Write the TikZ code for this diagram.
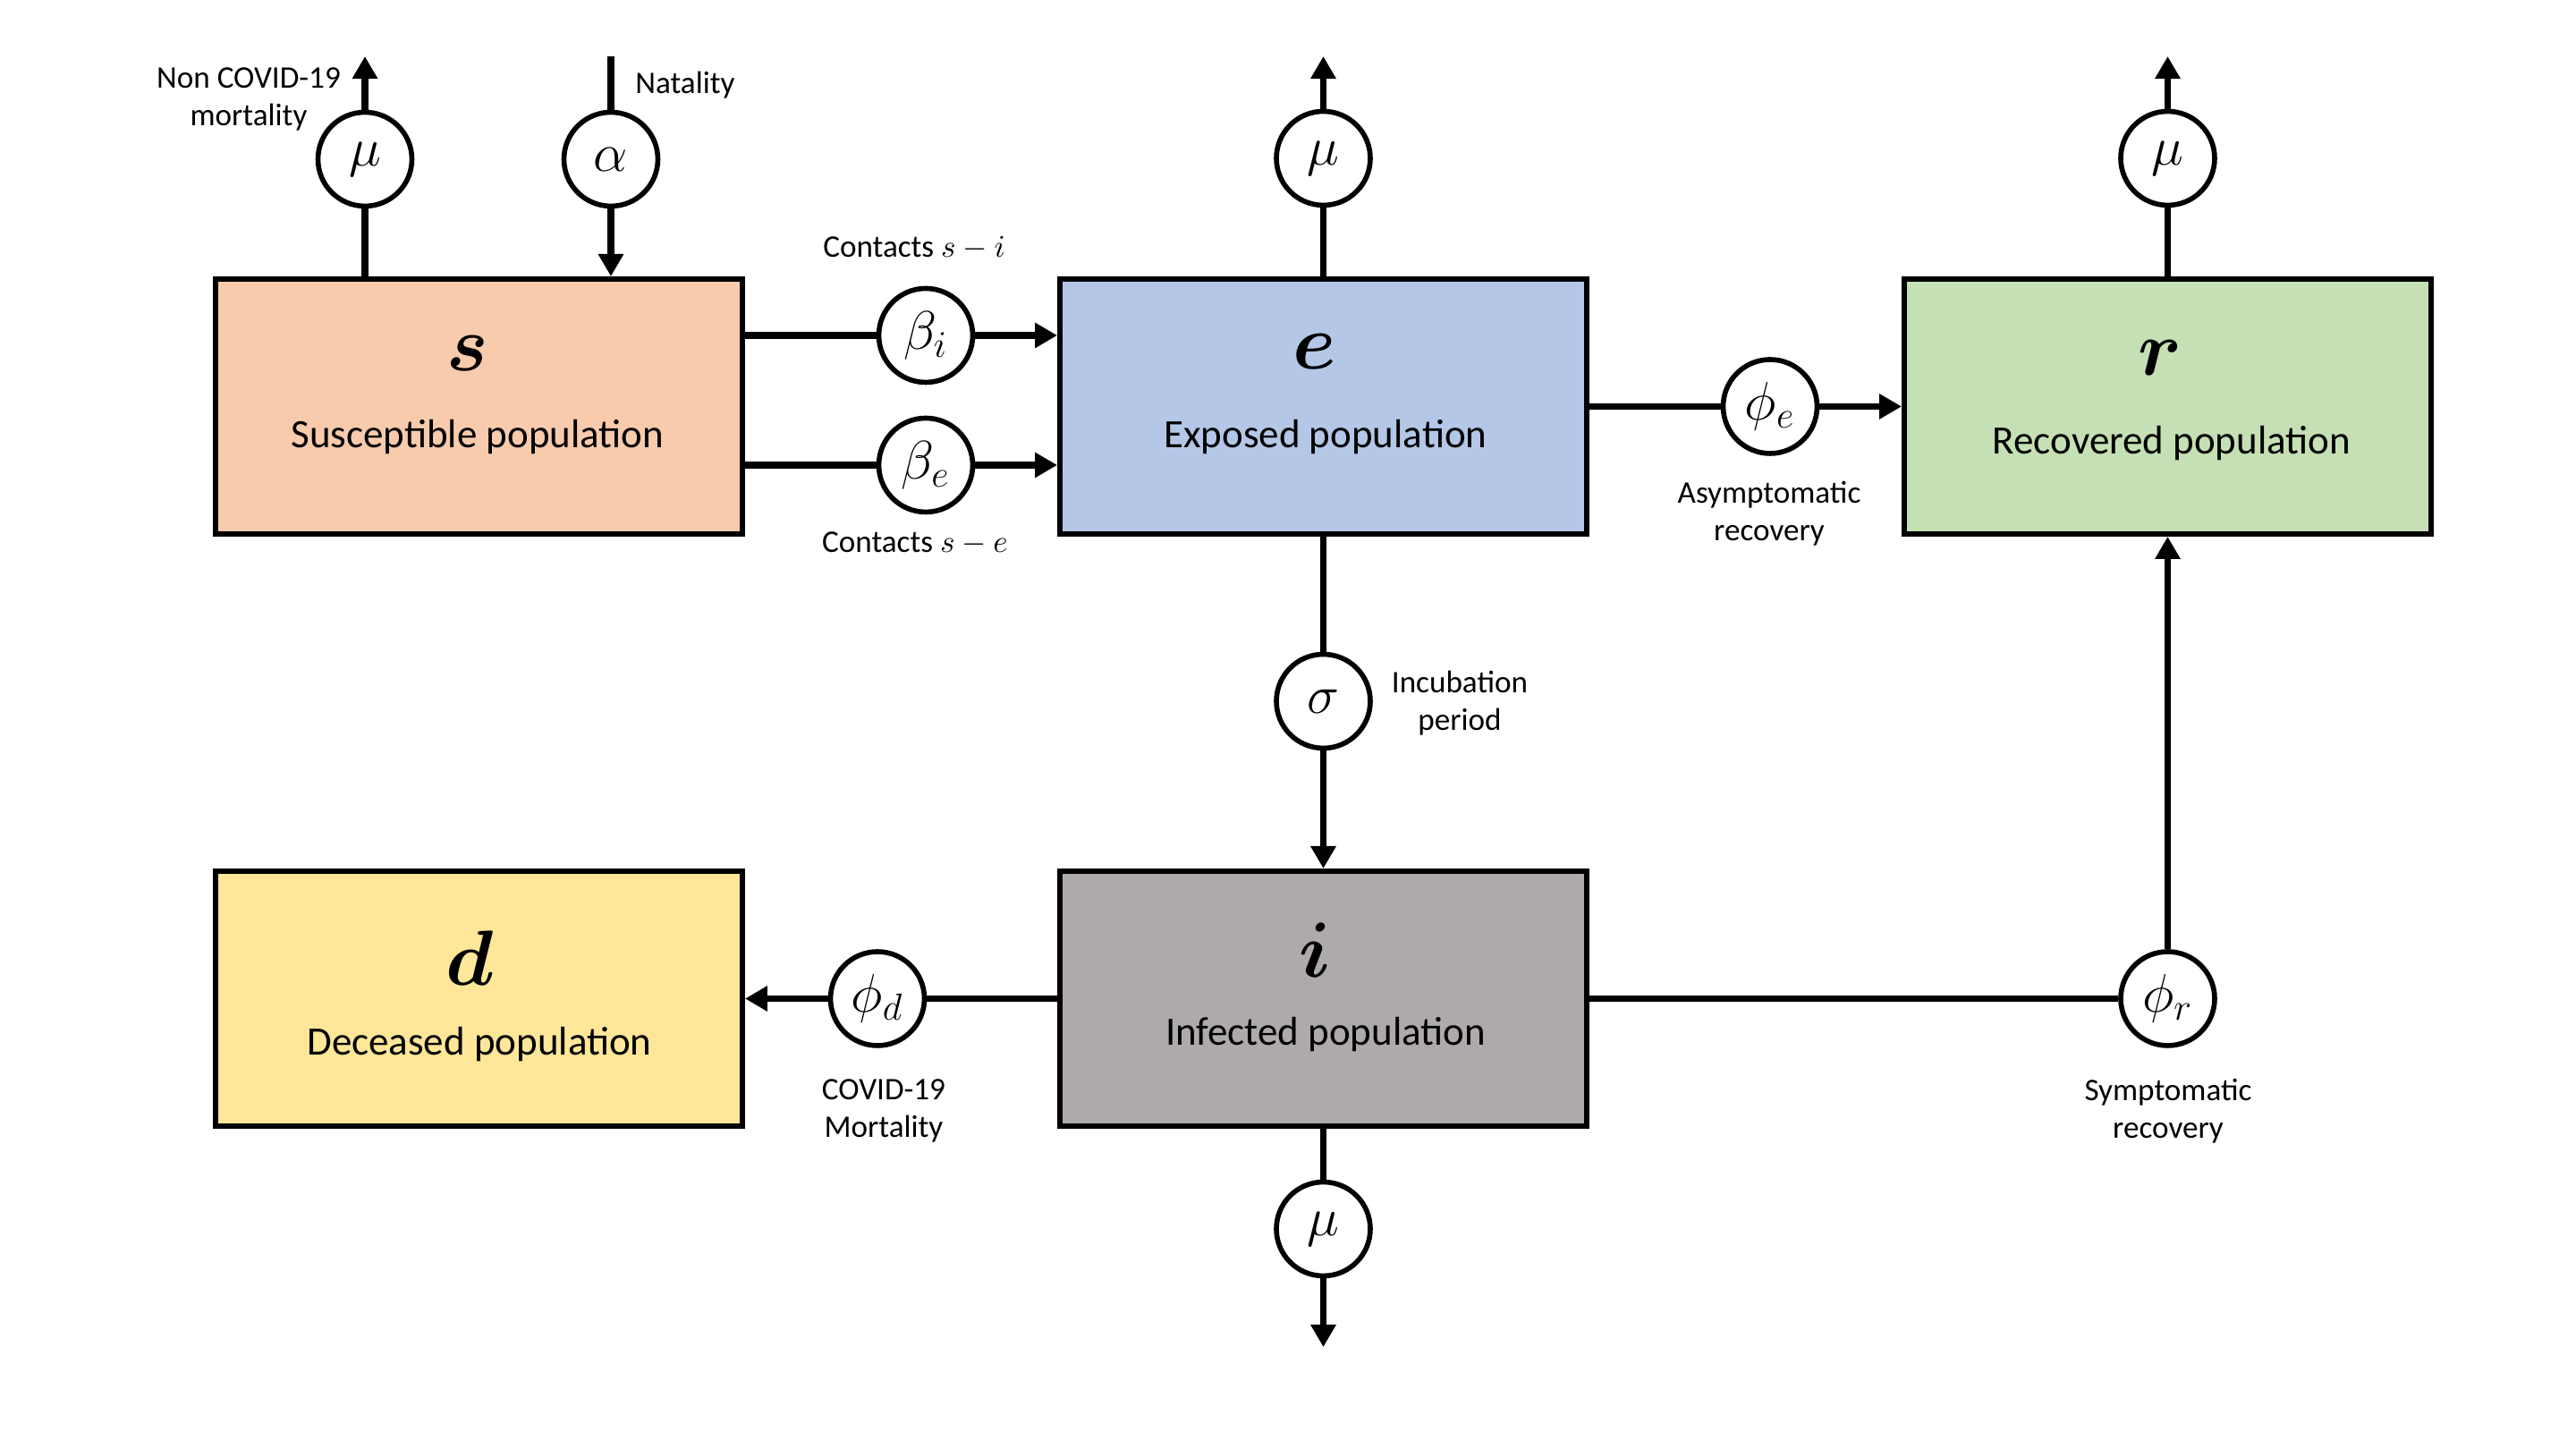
\documentclass[tikz,border=0pt]{standalone}
\usepackage{fontspec}
\setmainfont{Carlito}
\usepackage{bm}
\usetikzlibrary{arrows.meta, calc}

\definecolor{sfill}{RGB}{248,203,173}
\definecolor{efill}{RGB}{180,199,231}
\definecolor{rfill}{RGB}{197,224,180}
\definecolor{dfill}{RGB}{255,230,153}
\definecolor{ifill}{RGB}{174,170,170}

\begin{document}
\begin{tikzpicture}[
    box/.style={draw, line width=1.7pt, minimum width=5.89cm, minimum height=2.85cm, inner sep=0pt},
    rate/.style={draw, circle, fill=white, line width=1.6pt, minimum size=1.05cm, inner sep=0pt, font=\fontsize{18}{21}\selectfont},
    var/.style={font=\fontsize{24}{28}\selectfont},
    lbl/.style={font=\fontsize{12.8}{15}\selectfont},
    note/.style={font=\fontsize{10}{12}\selectfont, align=center},
    flow/.style={line width=2.1pt},
    arr/.style={flow, -{Triangle[length=2.5mm, width=2.7mm]}}
]
    \useasboundingbox (0,0) rectangle (28.8,16.2);

    \node[box, fill=sfill] (s) at (5.355,11.655) {};
    \node[box, fill=efill] (e) at (14.795,11.655) {};
    \node[box, fill=rfill] (r) at (24.235,11.655) {};
    \node[box, fill=dfill] (d) at (5.355,5.035) {};
    \node[box, fill=ifill] (i) at (14.795,5.035) {};

    \node[var] (sv) at (5.23,12.25) {$\bm{s}$};
    \node[lbl] (sl) at (5.34,11.31) {Susceptible population};
    \node[var] (ev) at (14.70,12.27) {$\bm{e}$};
    \node[lbl] (el) at (14.82,11.31) {Exposed population};
    \node[var] (rv) at (24.15,12.20) {$\bm{r}$};
    \node[lbl] (rl) at (24.28,11.24) {Recovered population};
    \node[var] (dv) at (5.25,5.49) {$\bm{d}$};
    \node[lbl] (dl) at (5.36,4.52) {Deceased population};
    \node[var] (iv) at (14.70,5.58) {$\bm{i}$};
    \node[lbl] (il) at (14.82,4.63) {Infected population};

    \node[rate] (mus) at (4.08,14.42) {$\mu$};
    \node[rate] (alpha) at (6.83,14.42) {$\alpha$};
    \node[rate] (mue) at (14.795,14.43) {$\mu$};
    \node[rate] (mur) at (24.235,14.43) {$\mu$};
    \node[rate] (bi) at (10.35,12.45) {$\beta_i$};
    \node[rate] (be) at (10.35,11.00) {$\beta_e$};
    \node[rate] (phie) at (19.79,11.655) {$\phi_e$};
    \node[rate] (sigma) at (14.795,8.36) {$\sigma$};
    \node[rate] (mui) at (14.795,2.46) {$\mu$};
    \node[rate] (phid) at (9.81,5.035) {$\phi_d$};
    \node[rate] (phir) at (24.235,5.035) {$\phi_r$};

    \coordinate (mustop) at (4.08,15.57);
    \coordinate (natal) at (6.83,15.57);
    \coordinate (muetop) at (14.795,15.57);
    \coordinate (murtop) at (24.235,15.57);
    \coordinate (muiend) at (14.795,1.14);

    \draw[flow] (mus |- s.north) -- (mus.south);
    \draw[arr] (mus.north) -- (mustop);
    \draw[flow] (natal) -- (alpha.north);
    \draw[arr] (alpha.south) -- (alpha |- s.north);
    \draw[flow] (s.east |- bi) -- (bi.west);
    \draw[arr] (bi.east) -- (e.west |- bi);
    \draw[flow] (s.east |- be) -- (be.west);
    \draw[arr] (be.east) -- (e.west |- be);
    \draw[flow] (e.north) -- (mue.south);
    \draw[arr] (mue.north) -- (muetop);
    \draw[flow] (e.east) -- (phie.west);
    \draw[arr] (phie.east) -- (r.west);
    \draw[flow] (r.north) -- (mur.south);
    \draw[arr] (mur.north) -- (murtop);
    \draw[flow] (e.south) -- (sigma.north);
    \draw[arr] (sigma.south) -- (i.north);
    \draw[flow] (i.south) -- (mui.north);
    \draw[arr] (mui.south) -- (muiend);
    \draw[flow] (i.west) -- (phid.east);
    \draw[arr] (phid.west) -- (d.east);
    \draw[flow] (i.east) -- (phir.west);
    \draw[arr] (phir.north) -- (r.south);

    \node[note] (musl) at (2.78,15.09) {Non COVID-19\\mortality};
    \node[note] (natl) at (7.66,15.25) {Natality};
    \node[note] (bil) at (10.22,13.43) {Contacts $s-i$};
    \node[note] (bel) at (10.23,10.12) {Contacts $s-e$};
    \node[note] (phiel) at (19.78,10.46) {Asymptomatic\\recovery};
    \node[note] (sigmal) at (16.32,8.34) {Incubation\\period};
    \node[note] (phidl) at (9.88,3.78) {COVID-19\\Mortality};
    \node[note] (phirl) at (24.24,3.78) {Symptomatic\\recovery};
\end{tikzpicture}
\end{document}
